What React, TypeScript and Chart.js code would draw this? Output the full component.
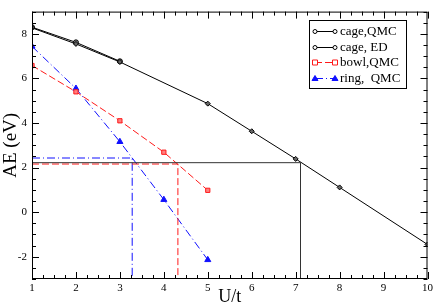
import React, { useEffect, useRef } from "react";
import { Chart, registerables } from "chart.js";

Chart.register(...registerables);

const xTickValues = [1, 2, 3, 4, 5, 6, 7, 8, 9, 10];
const yTickValues = [-2, 0, 2, 4, 6, 8];

const cageQmcX = [1, 2, 3];
const cageQmcY = [8.3, 7.62, 6.77];
const cageEdX = [1, 2, 3, 5, 6, 7, 8, 10];
const cageEdY = [8.27, 7.55, 6.74, 4.87, 3.63, 2.39, 1.11, -1.45];
const bowlX = [1, 2, 3, 4, 5];
const bowlY = [6.58, 5.4, 4.1, 2.69, 0.98];
const ringX = [1, 2, 3, 4, 5];
const ringY = [7.44, 5.55, 3.16, 0.56, -2.14];

// reference cut lines (horizontal then vertical)
const cageCutX = [1, 7.11, 7.11];
const cageCutY = [2.22, 2.22, -3];
const bowlCutX = [1, 4.32, 4.32];
const bowlCutY = [2.16, 2.16, -3];
const ringCutX = [1, 3.28, 3.28];
const ringCutY = [2.43, 2.43, -3];

const legendLabels = ["cage,QMC", "cage, ED", "bowl,QMC", "ring,  QMC"];

const SERIF = "'Liberation Serif', 'DejaVu Serif', serif";

function pts(xs: number[], ys: number[]) {
  return xs.map((x, i) => ({ x, y: ys[i] }));
}

const RED = "#ff1a1a";
const BLUE = "#1010ff";
const DASH_RED = [7, 3];
const DASH_BLUE = [8, 3, 1, 3];

export default function App() {
  const ref = useRef<HTMLCanvasElement | null>(null);

  useEffect(() => {
    if (!ref.current) return;

    const framePlugin = {
      id: "frameTicks",
      afterDraw(chart: any) {
        const ctx = chart.ctx;
        const a = chart.chartArea;
        const xs = chart.scales.x;
        const ys = chart.scales.y;
        ctx.save();
        ctx.strokeStyle = "#000";
        ctx.lineWidth = 1;
        ctx.setLineDash([]);
        ctx.strokeRect(a.left + 0.5, a.top + 0.5, a.right - a.left - 1, a.bottom - a.top - 1);
        ctx.beginPath();
        for (let v = 1; v <= 10.001; v += 0.25) {
          const px = Math.round(xs.getPixelForValue(v)) + 0.5;
          const major = Math.abs(v - Math.round(v)) < 1e-6;
          const len = major ? 7 : 4;
          ctx.moveTo(px, a.bottom);
          ctx.lineTo(px, a.bottom - len);
          ctx.moveTo(px, a.top);
          ctx.lineTo(px, a.top + len);
        }
        for (let v = -3; v <= 9.001; v += 0.5) {
          const py = Math.round(ys.getPixelForValue(v)) + 0.5;
          const major = Math.abs(v / 2 - Math.round(v / 2)) < 1e-6;
          const len = major ? 7 : 4;
          ctx.moveTo(a.left, py);
          ctx.lineTo(a.left + len, py);
          ctx.moveTo(a.right, py);
          ctx.lineTo(a.right - len, py);
        }
        ctx.stroke();

        // legend
        const bx = 309, by = 20, bw = 97, bh = 68;
        ctx.fillStyle = "#fff";
        ctx.fillRect(bx, by, bw, bh);
        ctx.strokeStyle = "#000";
        ctx.strokeRect(bx + 0.5, by + 0.5, bw, bh);
        const styles = [
          { color: "#000", dash: [] as number[], marker: "circle" },
          { color: "#000", dash: [] as number[], marker: "circle" },
          { color: RED, dash: DASH_RED, marker: "rect" },
          { color: BLUE, dash: DASH_BLUE, marker: "triangle" },
        ];
        ctx.font = "13px " + SERIF;
        ctx.textBaseline = "middle";
        ctx.textAlign = "left";
        legendLabels.forEach((label, i) => {
          const y = Math.round(31 + i * 15.7) + 0.5;
          const s = styles[i];
          ctx.strokeStyle = s.color;
          ctx.lineWidth = 1;
          ctx.setLineDash(s.dash);
          ctx.beginPath();
          ctx.moveTo(315, y);
          ctx.lineTo(335, y);
          ctx.stroke();
          ctx.setLineDash([]);
          [315, 335].forEach((mx) => {
            ctx.beginPath();
            if (s.marker === "circle") {
              ctx.arc(mx, y, 2, 0, Math.PI * 2);
              ctx.fillStyle = "#fff";
              ctx.fill();
            } else if (s.marker === "rect") {
              ctx.rect(mx - 2.5, y - 2.5, 5, 5);
              ctx.fillStyle = "#fff";
              ctx.fill();
            } else {
              ctx.moveTo(mx, y - 3);
              ctx.lineTo(mx + 3, y + 2);
              ctx.lineTo(mx - 3, y + 2);
              ctx.closePath();
              ctx.fillStyle = s.color;
              ctx.fill();
            }
            ctx.stroke();
          });
          ctx.fillStyle = "#000";
          ctx.fillText(label, 340, y);
        });
        ctx.restore();
      },
    };

    const chart = new Chart(ref.current, {
      type: "scatter",
      data: {
        datasets: [
          {
            label: "cage cut",
            data: pts(cageCutX, cageCutY),
            showLine: true,
            borderColor: "#333",
            borderWidth: 1,
            pointRadius: 0,
            fill: false,
          },
          {
            label: "bowl cut",
            data: pts(bowlCutX, bowlCutY),
            showLine: true,
            borderColor: RED,
            borderWidth: 1,
            borderDash: DASH_RED,
            pointRadius: 0,
            fill: false,
          },
          {
            label: "ring cut",
            data: pts(ringCutX, ringCutY),
            showLine: true,
            borderColor: BLUE,
            borderWidth: 1,
            borderDash: DASH_BLUE,
            pointRadius: 0,
            fill: false,
          },
          {
            label: legendLabels[1],
            data: pts(cageEdX, cageEdY),
            showLine: true,
            borderColor: "#000",
            borderWidth: 1,
            pointStyle: "rectRot",
            pointRadius: 2.5,
            pointBorderColor: "#000",
            pointBackgroundColor: "#666",
            fill: false,
          },
          {
            label: legendLabels[0],
            data: pts(cageQmcX, cageQmcY),
            showLine: true,
            borderColor: "#000",
            borderWidth: 1,
            pointStyle: "circle",
            pointRadius: 2.5,
            pointBorderColor: "#000",
            pointBackgroundColor: "#888",
            fill: false,
          },
          {
            label: legendLabels[2],
            data: pts(bowlX, bowlY),
            showLine: true,
            borderColor: RED,
            borderWidth: 1,
            borderDash: DASH_RED,
            pointStyle: "rect",
            pointRadius: 3,
            pointBorderColor: RED,
            pointBackgroundColor: "#ff8080",
            fill: false,
          },
          {
            label: legendLabels[3],
            data: pts(ringX, ringY),
            showLine: true,
            borderColor: BLUE,
            borderWidth: 1,
            borderDash: DASH_BLUE,
            pointStyle: "triangle",
            pointRadius: 3.5,
            pointBorderColor: BLUE,
            pointBackgroundColor: BLUE,
            fill: false,
          },
        ],
      },
      options: {
        animation: false,
        responsive: true,
        maintainAspectRatio: false,
        layout: { padding: { top: 2, right: 7, left: 0, bottom: 0 } },
        plugins: {
          legend: { display: false },
          tooltip: { enabled: false },
        },
        scales: {
          x: {
            type: "linear",
            min: 1,
            max: 10,
            afterBuildTicks: (s: any) => {
              s.ticks = xTickValues.map((v) => ({ value: v }));
            },
            afterFit: (s: any) => {
              s.height = 29;
            },
            grid: { display: false, drawTicks: false },
            border: { display: false },
            ticks: {
              padding: 3,
              color: "#000",
              font: { family: SERIF, size: 11 },
              maxRotation: 0,
              autoSkip: false,
            },
            title: {
              display: true,
              text: "U/t",
              color: "#000",
              font: { family: SERIF, size: 18 },
              padding: 0,
            },
          },
          y: {
            type: "linear",
            min: -3,
            max: 9,
            afterBuildTicks: (s: any) => {
              s.ticks = yTickValues.map((v) => ({ value: v }));
            },
            afterFit: (s: any) => {
              s.width = 32;
            },
            grid: { display: false, drawTicks: false },
            border: { display: false },
            ticks: {
              padding: 5,
              color: "#000",
              font: { family: SERIF, size: 11 },
              autoSkip: false,
            },
            title: {
              display: true,
              text: "AE (eV)",
              color: "#000",
              font: { family: SERIF, size: 19 },
              padding: 0,
            },
          },
        },
      },
      plugins: [framePlugin],
    } as any);

    return () => chart.destroy();
  }, []);

  return (
    <div style={{ position: "absolute", left: 0, top: 0, width: 436, height: 308 }}>
      <canvas ref={ref} />
    </div>
  );
}
